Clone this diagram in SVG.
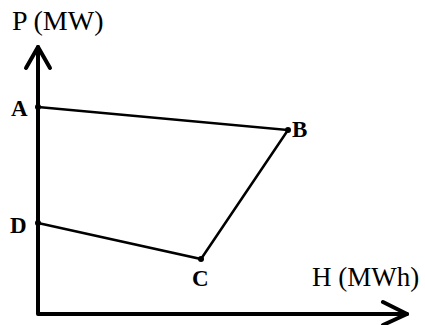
<svg xmlns="http://www.w3.org/2000/svg" width="425" height="325" viewBox="0 0 425 325">
<style>
.ax{fill:none;stroke:#000;stroke-width:4;stroke-linecap:round;stroke-linejoin:round}
.ln{fill:none;stroke:#000;stroke-width:2.5;stroke-linecap:round}
.t{font-family:"Liberation Serif","Times New Roman",serif;fill:#000}
.b{font-weight:bold;font-size:23px}
.l{font-size:27px}
</style>
<rect width="425" height="325" fill="#fff"/>
<g id="axes">
<path class="ax" d="M38,47 V314 H407"/>
<path class="ax" d="M26,68 L38,47 L50,68"/>
<path class="ax" d="M383,302 L407,314 L383,325"/>
</g>
<g id="connectors">
<path class="ln" d="M38,107 L288,130 L201,259 L38,223"/>
</g>
<g id="node-A"><circle cx="38" cy="107" r="3"/><text class="t b" x="11" y="116">A</text></g>
<g id="node-B"><circle cx="288" cy="130" r="3"/><text class="t b" x="292" y="137">B</text></g>
<g id="node-C"><circle cx="201" cy="259" r="3"/><text class="t b" x="192" y="286">C</text></g>
<g id="node-D"><circle cx="38" cy="223" r="3"/><text class="t b" x="10" y="233">D</text></g>
<text class="t l" x="12" y="30" font-size="28" style="font-size:28px">P (MW)</text>
<text class="t l" x="312" y="286">H (MWh)</text>
</svg>
